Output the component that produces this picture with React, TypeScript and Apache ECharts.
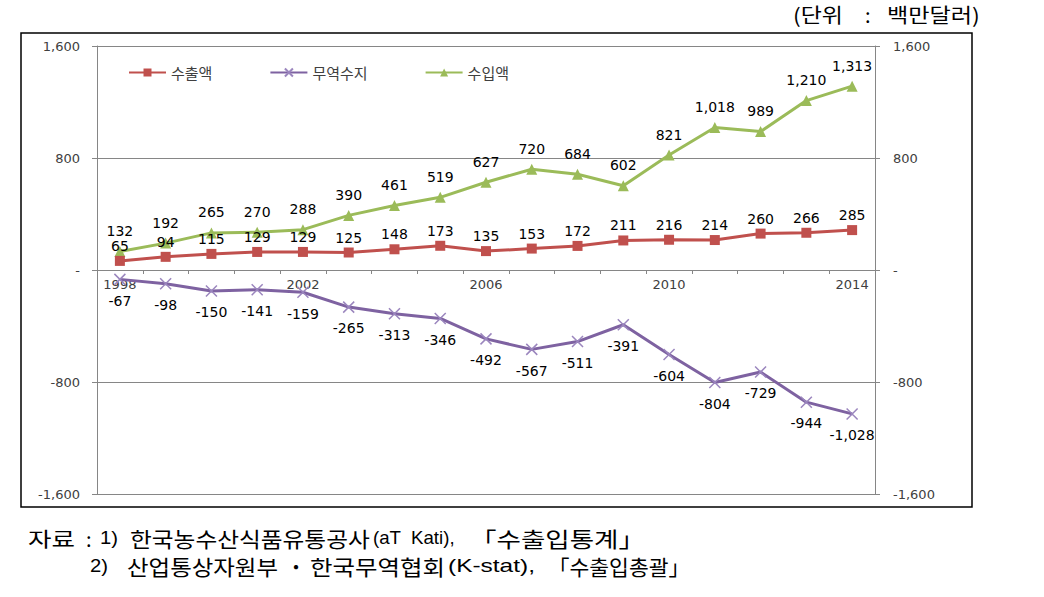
import React, { useEffect, useRef } from "react";
import * as echarts from "echarts";

const years = ["1998","1999","2000","2001","2002","2003","2004","2005","2006","2007","2008","2009","2010","2011","2012","2013","2014"];
const exportsVal = [65, 94, 115, 129, 129, 125, 148, 173, 135, 153, 172, 211, 216, 214, 260, 266, 285];
const balanceVal = [-67, -98, -150, -141, -159, -265, -313, -346, -492, -567, -511, -391, -604, -804, -729, -944, -1028];
const importsVal = [132, 192, 265, 270, 288, 390, 461, 519, 627, 720, 684, 602, 821, 1018, 989, 1210, 1313];
const seriesNames = ["수출액", "무역수지", "수입액"];
const unitParts = ["(단위", ":", "백만달러)"];
const source1Parts = ["자료", ":", "1)", "한국농수산식품유통공사", "(aT  Kati),", "「수출입통계」"];
const source2Parts = ["2)", "산업통상자원부", "・", "한국무역협회", "(K-stat),", "「수출입총괄」"];

const fmt = (v: number) => {
  if (v === 0) return "-";
  const s = Math.abs(v).toString().replace(/\B(?=(\d{3})+(?!\d))/g, ",");
  return (v < 0 ? "-" : "") + s;
};

const NUM_FONT = "'DejaVu Sans', sans-serif";
const KR_FONT = "'Noto Sans CJK KR', sans-serif";
const LAT_FONT = "'Liberation Sans', Arial, sans-serif";

export default function App() {
  const ref = useRef<HTMLDivElement>(null);
  useEffect(() => {
    if (!ref.current) return;
    const chart = echarts.init(ref.current, undefined, { renderer: "svg" });
    const canvas = document.createElement("canvas");
    const ctx = canvas.getContext("2d");
    const measure = (text: string, size: number, font: string) => {
      if (!ctx) return 0;
      ctx.font = `${size}px ${font}`;
      return ctx.measureText(text).width;
    };
    const axisLabelStyle = { color: "#404040", fontSize: 13, fontFamily: NUM_FONT };
    const yAxisBase = {
      type: "value",
      min: -1600,
      max: 1600,
      interval: 800,
      axisLine: { show: true, lineStyle: { color: "#868686", width: 1 } },
      axisTick: { show: true, length: 5, lineStyle: { color: "#868686" } },
    };
    const dataLabel = (pos: string, dist: number) => ({
      show: true,
      position: pos,
      distance: dist,
      color: "#000",
      fontSize: 14,
      lineHeight: 14,
      fontFamily: NUM_FONT,
      formatter: (p: any) => fmt(p.value),
    });
    const txt = (text: string, x: number, x2: number | null, y: number, size: number, font: string) => {
      let scaleX = 1;
      if (x2 != null) {
        const w = measure(text, size, font);
        if (w > 0) scaleX = (x2 - x) / w;
      }
      return {
        type: "text",
        x,
        y,
        scaleX,
        silent: true,
        style: { text, fill: "#000", fontSize: size, fontFamily: font, textAlign: "left", textVerticalAlign: "middle" },
      };
    };
    const s1x = [28, 86, 100, 130, 373, 470];
    const s1x2 = [75, null, 118, 370, 455, 645];
    const s1f = [KR_FONT, KR_FONT, LAT_FONT, KR_FONT, LAT_FONT, KR_FONT];
    const s1s = [20, 20, 18, 21, 18, 21];
    const s2x = [90, 127, 286, 310, 448, 548];
    const s2x2 = [108, 278, null, 445, 535, 690];
    const s2f = [LAT_FONT, KR_FONT, KR_FONT, KR_FONT, LAT_FONT, KR_FONT];
    const s2s = [18, 21, 20, 21, 18, 21];
    const ux = [793, 865, 887];
    const ux2 = [843, null, 980];
    const gridH = 597 - 46 - 103;
    chart.setOption({
      animation: false,
      backgroundColor: "#fff",
      grid: { left: 97, right: 169, top: 46, bottom: 103, containLabel: false },
      legend: {
        left: 123,
        top: 60,
        itemWidth: 37,
        itemHeight: 10,
        itemGap: 57,
        textStyle: { fontSize: 15, color: "#404040", fontFamily: KR_FONT },
        data: seriesNames,
      },
      xAxis: {
        type: "category",
        data: years,
        boundaryGap: true,
        position: "bottom",
        offset: -gridH / 2,
        axisLine: { onZero: false, lineStyle: { color: "#868686", width: 1 } },
        axisTick: { show: true, length: 4, interval: 0, lineStyle: { color: "#868686" } },
        axisLabel: { ...axisLabelStyle, interval: 3, margin: 8 },
        splitLine: { show: false },
      },
      yAxis: [
        {
          ...yAxisBase,
          position: "left",
          axisLabel: { ...axisLabelStyle, margin: 17, formatter: (v: number) => fmt(v) },
          splitLine: { show: true, lineStyle: { color: "#868686", width: 1 } },
        },
        {
          ...yAxisBase,
          position: "right",
          axisLabel: { ...axisLabelStyle, margin: 18, formatter: (v: number) => fmt(v) },
          splitLine: { show: false },
        },
      ],
      series: [
        {
          name: seriesNames[0],
          type: "line",
          data: exportsVal,
          symbol: "rect",
          symbolSize: 10,
          lineStyle: { color: "#C0504D", width: 3 },
          itemStyle: { color: "#C0504D" },
          label: dataLabel("top", 3),
          z: 3,
        },
        {
          name: seriesNames[1],
          type: "line",
          data: balanceVal,
          symbol: "path://M0 0L10 10M10 0L0 10",
          symbolSize: 11,
          lineStyle: { color: "#7E62A1", width: 3 },
          itemStyle: { color: "#8064A2", borderColor: "#9B86BE", borderWidth: 1.5 },
          label: dataLabel("bottom", 8),
          z: 2,
        },
        {
          name: seriesNames[2],
          type: "line",
          data: importsVal,
          symbol: "triangle",
          symbolSize: 11,
          lineStyle: { color: "#9BBB59", width: 3 },
          itemStyle: { color: "#9BBB59" },
          label: dataLabel("top", 8),
          z: 2,
        },
      ],
      graphic: [
        {
          type: "rect",
          shape: { x: 21, y: 33, width: 951, height: 474 },
          style: { fill: "none", stroke: "#000", lineWidth: 1.5 },
          silent: true,
          z: -1,
        },
        ...unitParts.map((t, i) => txt(t, ux[i], ux2[i], 14, 20, KR_FONT)),
        ...source1Parts.map((t, i) => txt(t, s1x[i], s1x2[i], 538, s1s[i], s1f[i])),
        ...source2Parts.map((t, i) => txt(t, s2x[i], s2x2[i], 566, s2s[i], s2f[i])),
      ],
    });
    return () => chart.dispose();
  }, []);
  return <div ref={ref} style={{ position: "absolute", left: 0, top: 0, width: 1044, height: 597 }} />;
}
